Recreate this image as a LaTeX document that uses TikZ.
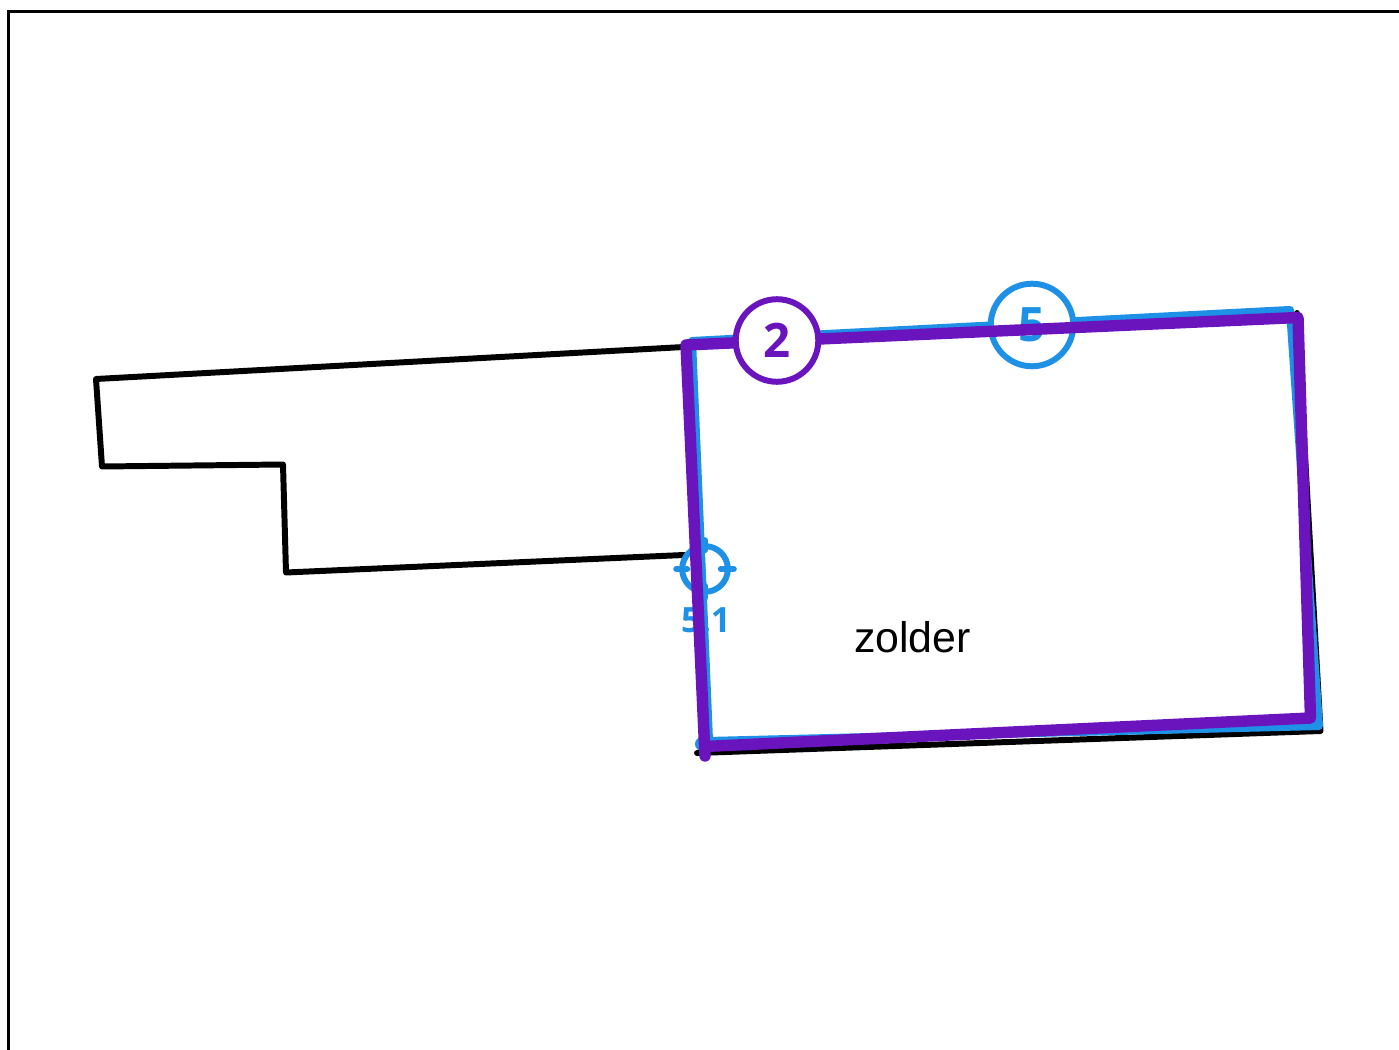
\documentclass[tikz,border=0pt]{standalone}
\usepackage{fontspec}
\setmainfont{Liberation Sans}
\newfontfamily\markfont{Open Sans}
\usetikzlibrary{calc,positioning}
\definecolor{markblue}{HTML}{1E90E6}
\definecolor{markpurple}{HTML}{6A14BE}
\tikzset{
  wall/.style={black, line width=3.4pt, line join=round, line cap=round},
  bluewall/.style={markblue, line width=4.6pt, line join=round, line cap=round},
  purplewall/.style={markpurple, line width=6.5pt, line join=round, line cap=round},
  markcircle/.style={circle, draw, fill=white, line width=3.4pt, minimum size=47pt, inner sep=0pt,
    font=\markfont\bfseries\fontsize{27}{27}\selectfont},
  smalltick/.style={markblue, line width=3.4pt, line cap=round}
}
\begin{document}
\begin{tikzpicture}[x=0.02cm,y=-0.02cm]
\useasboundingbox (0,0) rectangle (1399,1050);
% frame
\draw[black, line width=1.7pt] (8.5,1060) -- (8.5,11.5) -- (1410,11.5);
% left part
\coordinate (A) at (684,347);
\coordinate (B) at (96,379);
\coordinate (C) at (102,466.5);
\coordinate (D) at (283,464.5);
\coordinate (E) at (286,572.5);
\coordinate (F) at (684,555);
\draw[wall] (A) -- (B) -- (C) -- (D) -- (E) -- (F);
% room
\coordinate (G) at (697,753);
\coordinate (H) at (1320.5,731);
\coordinate (I) at (1297,313);
\draw[wall] (G) -- (H) -- (I);
% blue outline
\coordinate (J) at (692,341);
\coordinate (K) at (1290,310);
\coordinate (L) at (1319,726);
\coordinate (M) at (709,741);
\draw[bluewall] (J) -- (K) -- (L) -- (M) -- cycle;
\fill[markblue] (702,744) circle (0.14cm);
% crosshair
\node[circle, draw=markblue, line width=3.4pt, minimum size=26pt, inner sep=0pt] (cross) at (705,569) {};
\draw[smalltick] (cross.north) ++(0,-3) -- ++(0,10);
\draw[smalltick] (cross.south) ++(0,-9) -- ++(0,12);
\draw[smalltick] (cross.west) ++(-3,0) -- ++(11,0);
\draw[smalltick] (cross.east) ++(-10,0) -- ++(13,0);
\node[markblue, font=\markfont\bfseries\fontsize{19.8}{19.8}\selectfont] (label51) at (706,620) {5.1};
% circle 5
\node[markcircle, draw=markblue, text=markblue] (five) at (1032,325) {5};
% purple outline
\coordinate (P) at (686,345);
\coordinate (Q) at (1298,317.5);
\coordinate (R) at (1310.5,718);
\coordinate (S) at (705,756);
\coordinate (T) at (705,746.5);
\draw[purplewall] (S) -- (P) -- (Q) -- (R) -- (T);
% circle 2
\node[markcircle, draw=markpurple, text=markpurple] (two) at (777,340.5) {2};
\node[font=\fontsize{24.4}{24.4}\selectfont] (zolder) at (912.5,637) {zolder};
\end{tikzpicture}
\end{document}
